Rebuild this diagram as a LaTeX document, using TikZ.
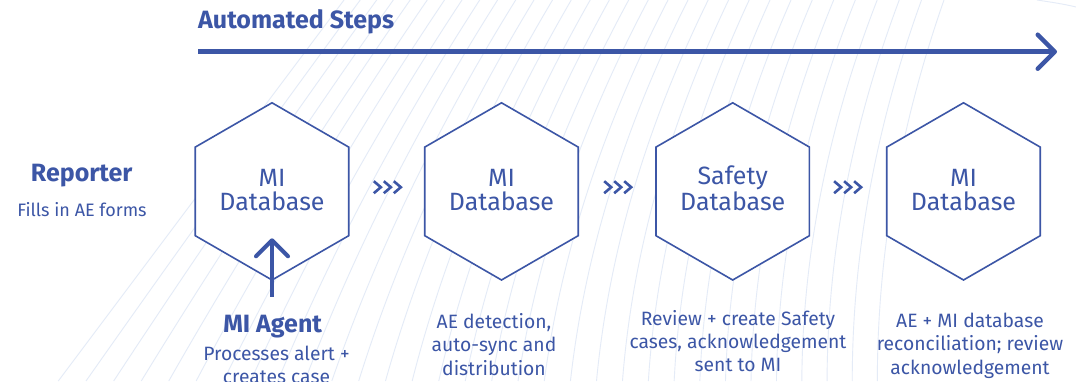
\documentclass[tikz,border=0pt]{standalone}
\usepackage{fontspec}
\setmainfont{Fira Sans}
\usetikzlibrary{arrows.meta,shapes.geometric,calc}
\definecolor{ink}{HTML}{3C56A6}
\definecolor{bgline}{HTML}{E4EBF7}
\begin{document}
\begin{tikzpicture}[x=1pt,y=-1pt,
  hexa/.style={regular polygon, regular polygon sides=6, shape border rotate=30,
    minimum size=177.2pt, inner sep=0pt, draw=ink, line width=1.6pt, fill=white},
  hexlabel/.style={text=ink, font=\fontsize{25}{23.3}\selectfont, align=center,
    anchor=base, inner sep=0pt},
  caption/.style={text=ink, font=\fontsize{19.3}{23.4}\selectfont, align=center,
    anchor=base, inner sep=0pt},
  headline/.style={text=ink, font=\bfseries\fontsize{25}{30}\selectfont,
    anchor=base, inner sep=0pt},
  chev/.style={draw=ink, line width=2.6pt, line join=miter},
  bigarrow/.style={draw=ink, line width=4.5pt,
    -{Straight Barb[length=17pt,width=34pt,round]}},
  uparrow/.style={draw=ink, line width=4pt,
    -{Straight Barb[length=16pt,width=32pt,round]}},
]
\useasboundingbox (0,0) rectangle (1076,381);
\fill[white] (0,0) rectangle (1076,381);

% faint background lines
\foreach \i in {0,...,31}{
  \pgfmathsetmacro\s{\i/31}
  \pgfmathsetmacro\xt{344+500*\s+100*\s*\s}
  \pgfmathsetmacro\a{-0.75+0.4*\s}
  \pgfmathsetmacro\b{-0.75*(1-\s)*(1-\s)}
  \pgfmathsetmacro\xb{\xt+190.5*(\a+\b)}
  \draw[bgline, line width=0.9pt] (\xt,0) .. controls ({\xt+127*\a},127)
    and ({\xb-127*\b},254) .. (\xb,381);
}
\draw[bgline, line width=0.9pt] (1037,0) .. controls (1050,2) and (1064,4) .. (1076,7);

% headline arrow
\node[headline, anchor=base west] (auto) at (198,28.3) {Automated Steps};
\coordinate (astart) at (198,51.7);
\coordinate (aend) at (1057,51.7);
\draw[bigarrow] (astart) -- (aend);

% reporter
\node[headline, anchor=base] (rep) at (81.7,181.7) {Reporter};
\node[caption, font=\fontsize{18}{21}\selectfont] (repc) at (82,216.7) {Fills in AE forms};

% hexagons
\node[hexa] (h1) at (272,191.4) {};
\node[hexa] (h2) at (501.5,191.4) {};
\node[hexa] (h3) at (732.7,191.4) {};
\node[hexa] (h4) at (963.5,191.4) {};

\node[hexlabel] (l1) at (272,210) {MI\\Database};
\node[hexlabel] (l2) at (501.5,210) {MI\\Database};
\node[hexlabel] (l3) at (732.7,210) {Safety\\Database};
\node[hexlabel] (l4) at (963.5,210) {MI\\Database};

% chevrons between hexagons
\coordinate (c1) at (387.3,187.2);
\coordinate (c2) at (617.7,187.2);
\coordinate (c3) at (847.6,187.2);
\foreach \c in {c1,c2,c3}{
  \foreach \k in {-1,0,1}{
    \pgfmathsetmacro\xl{10*\k-3.5}
    \pgfmathsetmacro\xr{10*\k+3.5}
    \draw[chev] ($(\c)+(\xl,-6)$) -- ($(\c)+(\xr,0)$) -- ($(\c)+(\xl,6)$);
  }
}

% MI agent
\node[headline] (agent) at (272.7,332.7) {MI Agent};
\node[caption] (agentc) at (276.5,383.4) {Processes alert +\\creates case};
\coordinate (upstart) at (272,296.7);
\coordinate (upend) at (272,238.3);
\draw[uparrow] (upstart) -- (upend);

% captions
\node[caption] (cap2) at (494,375.1) {AE detection,\\auto-sync and\\distribution};
\node[caption] (cap3) at (738,371.8) {Review + create Safety\\cases, acknowledgement\\sent to MI};
\node[caption] (cap4) at (970,374.1) {AE + MI database\\reconciliation; review\\acknowledgement};
\end{tikzpicture}
\end{document}
